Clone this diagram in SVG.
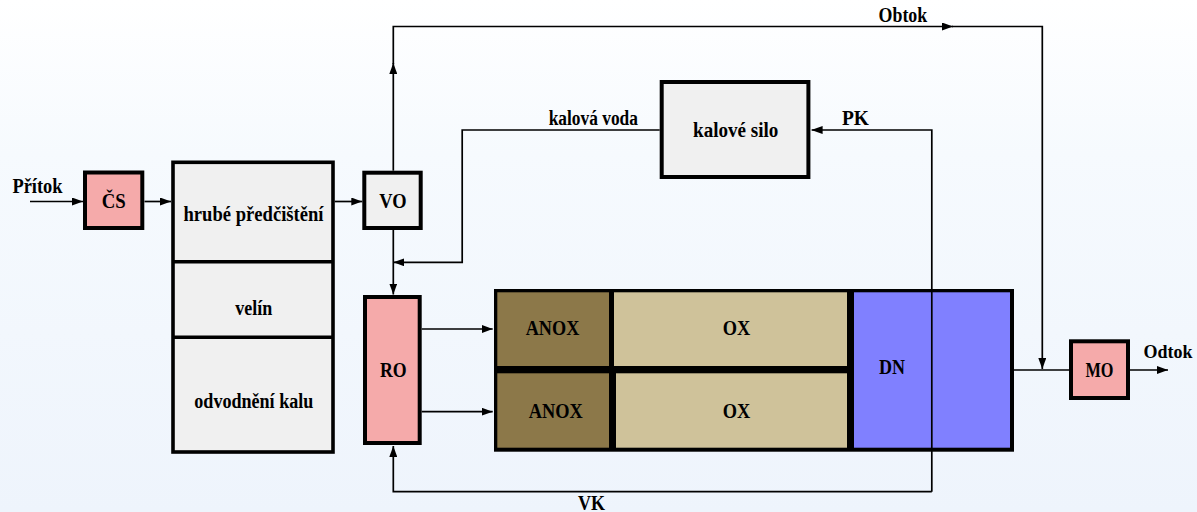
<svg xmlns="http://www.w3.org/2000/svg" width="1197" height="512" viewBox="0 0 1197 512">
<defs>
<linearGradient id="bg" x1="0" y1="0" x2="0" y2="1">
<stop offset="0" stop-color="#ffffff"/>
<stop offset="0.3" stop-color="#f6fafe"/>
<stop offset="1" stop-color="#eef4fc"/>
</linearGradient>
<marker id="ah" markerUnits="userSpaceOnUse" markerWidth="11" markerHeight="8" refX="11" refY="4" orient="auto">
<path d="M0,0 L11,4 L0,8 z" fill="#000"/>
</marker>
</defs>
<style>
text{font-family:'Liberation Serif','DejaVu Serif',serif;font-weight:700;font-size:20px;fill:#000;text-anchor:middle}
.box{stroke:#000;stroke-width:4}
.gray{fill:#f0f0f0}
.pink{fill:#f5aaaa}
.anox{fill:#8c7849}
.ox{fill:#cfc29a}
.dn{fill:#8080ff}
.c{fill:none;stroke:#000;stroke-width:1.7}
.ca{fill:none;stroke:#000;stroke-width:1.7;marker-end:url(#ah)}
</style>
<rect x="0" y="0" width="1197" height="512" fill="url(#bg)"/>

<g id="pritok-label"><text x="37.5" y="192.5" textLength="50" lengthAdjust="spacingAndGlyphs">Přítok</text></g>

<g id="CS">
<rect class="box pink" x="85" y="172.5" width="57.3" height="55.5"/>
<text x="113.7" y="208.3" textLength="24" lengthAdjust="spacingAndGlyphs">ČS</text>
</g>

<g id="budova">
<rect class="gray" x="173" y="162.3" width="160" height="289.7" stroke="#000" stroke-width="3.6"/>
<line x1="173" y1="261.7" x2="333" y2="261.7" stroke="#000" stroke-width="3.6"/>
<line x1="173" y1="337.3" x2="333" y2="337.3" stroke="#000" stroke-width="3.6"/>
<text x="253.5" y="220.5" textLength="140" lengthAdjust="spacingAndGlyphs">hrubé předčištění</text>
<text x="253.7" y="315" textLength="37" lengthAdjust="spacingAndGlyphs">velín</text>
<text x="253.8" y="407.7" textLength="119" lengthAdjust="spacingAndGlyphs">odvodnění kalu</text>
</g>

<g id="VO">
<rect class="box gray" x="364.3" y="172.7" width="56.4" height="55.3"/>
<text x="393" y="208.3" textLength="27.3" lengthAdjust="spacingAndGlyphs">VO</text>
</g>

<g id="RO">
<rect class="box pink" x="365" y="297" width="54.7" height="146"/>
<text x="393.3" y="377.3" textLength="26.7" lengthAdjust="spacingAndGlyphs">RO</text>
</g>

<g id="kalove-silo">
<rect class="box gray" x="661.7" y="82" width="146.7" height="95"/>
<text x="735.7" y="136.7" textLength="85.3" lengthAdjust="spacingAndGlyphs">kalové silo</text>
</g>

<g id="nadrze-ramec">
<rect x="494" y="289" width="520" height="162.7" fill="#000"/>
</g>
<g id="ANOX1">
<rect class="anox" x="497.3" y="292.3" width="111.7" height="73.7"/>
<text x="552.5" y="335" textLength="53.6" lengthAdjust="spacingAndGlyphs">ANOX</text>
</g>
<g id="OX1">
<rect class="ox" x="614" y="292.3" width="233" height="73.7"/>
<text x="736.6" y="335" textLength="27.5" lengthAdjust="spacingAndGlyphs">OX</text>
</g>
<g id="ANOX2">
<rect class="anox" x="497.3" y="373.3" width="111.7" height="74.4"/>
<text x="555.7" y="417.7" textLength="54" lengthAdjust="spacingAndGlyphs">ANOX</text>
</g>
<g id="OX2">
<rect class="ox" x="616" y="373.3" width="231" height="74.4"/>
<text x="736.6" y="417.7" textLength="27.5" lengthAdjust="spacingAndGlyphs">OX</text>
</g>
<g id="DN">
<rect class="dn" x="854" y="292.3" width="156" height="155.4"/>
<text x="892" y="374" textLength="26" lengthAdjust="spacingAndGlyphs">DN</text>
</g>

<g id="MO">
<rect class="box pink" x="1071" y="341.3" width="57" height="56.7"/>
<text x="1099.5" y="377" textLength="28" lengthAdjust="spacingAndGlyphs">MO</text>
</g>

<g id="labels">
<text x="902.9" y="21.7" textLength="48.6" lengthAdjust="spacingAndGlyphs">Obtok</text>
<text x="593.3" y="125" textLength="89.3" lengthAdjust="spacingAndGlyphs">kalová voda</text>
<text x="855.5" y="125" textLength="27" lengthAdjust="spacingAndGlyphs">PK</text>
<text x="1168" y="358.3" style="font-size:18px">Odtok</text>
<text x="591.5" y="509.5" textLength="27" lengthAdjust="spacingAndGlyphs">VK</text>
</g>

<g id="connectors">
<path class="ca" d="M30,201.5 H83" stroke-width="2.2"/>
<path class="ca" d="M144.5,201.5 H171"/>
<path class="ca" d="M334.7,201.5 H362.3"/>
<path class="ca" d="M393.3,170.7 V63"/>
<path class="ca" d="M393.3,64 V26.5 H953"/>
<path class="ca" d="M952,26.5 H1042.3 V369"/>
<path class="ca" d="M393.3,230 V294.5"/>
<path class="ca" d="M659.7,130 H462.2 V262.3 H393.3"/>
<path class="ca" d="M931.8,491.7 V130 H811.6"/>
<path class="ca" d="M931.8,491.7 H393.3 V446"/>
<path class="ca" d="M421.7,329 H492.7"/>
<path class="ca" d="M421.7,411.7 H492.7"/>
<path class="c" d="M1014,370 H1069"/>
<path class="ca" d="M1130,370 H1168"/>
</g>
</svg>
